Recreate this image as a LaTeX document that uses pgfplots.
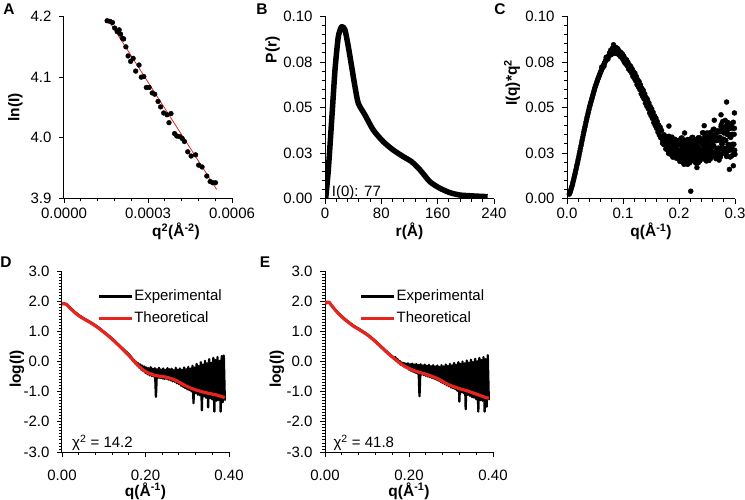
\documentclass[border=0pt]{standalone}
\usepackage{fontspec}
\setmainfont{Liberation Sans}
\usepackage{pgfplots}
\pgfplotsset{compat=1.18}

\definecolor{fitred}{RGB}{232,36,30}
\newcommand{\tk}{\fontsize{15}{18}\selectfont}
\newcommand{\lb}{\fontsize{15.5}{18}\selectfont\bfseries}

% common look of the five panels (Excel-like)
\pgfplotsset{
  panel/.style={
    scale only axis, axis x line*=bottom, axis y line*=left,
    axis line style={line width=1pt, black},
    tick style={black, line width=0.9pt},
    tick align=outside, major tick length=5pt, minor tick length=3pt,
    tick label style={font=\tk},
    label style={font=\lb},
    yticklabel style={xshift=-4pt},
    xticklabel style={yshift=-1pt},
    scaled ticks=false,
  },
  expl/.style={black, line width=2.3pt, line join=round},
  theo/.style={fitred, line width=3.2pt, line join=round},
  legend image code/.code={\draw[#1, line width=3pt] (0pt,0pt) -- (33pt,0pt);},
  fitlegend/.style={legend cell align=left,
    legend style={at={(axis description cs:#1,0.905)}, anchor=north west, draw=none,
      fill=none, inner sep=0pt, row sep=6pt, font=\tk,
      nodes={inner sep=1pt, text height=11pt, text depth=3pt}}},
}

\begin{document}
\begin{tikzpicture}
\path[use as bounding box] (0pt,0pt) rectangle (745pt,499pt);

% ---------------- A: Guinier
\begin{axis}[panel, at={(64pt,300.5pt)}, anchor=south west, width=168pt, height=182pt,
  xmin=0, xmax=0.0006, ymin=3.9, ymax=4.2,
  xtick={0,0.0003,0.0006}, xticklabels={0.0000,0.0003,0.0006}, minor x tick num=4,
  ytick={3.9,4.0,4.1,4.2}, yticklabels={3.9,4.0,4.1,4.2},
  xlabel={q\textsuperscript{2}(Å\textsuperscript{-2})}, ylabel={ln(I)},
  xlabel style={at={(axis description cs:0.667,-0.181)}, anchor=center},
  ylabel style={at={(axis description cs:-0.29,0.5)}, anchor=center}]
\addplot[only marks, mark=*, mark size=2.4pt, black] coordinates {
 (0.000154,4.193) (0.000164,4.192) (0.000173,4.190) (0.000181,4.181) (0.000190,4.175)
 (0.000197,4.178) (0.000202,4.171) (0.000209,4.164) (0.000213,4.163) (0.000221,4.150)
 (0.000229,4.135) (0.000238,4.126) (0.000247,4.131) (0.000256,4.110) (0.000268,4.120)
 (0.000276,4.100) (0.000285,4.101) (0.000294,4.083) (0.000304,4.083) (0.000315,4.074)
 (0.000324,4.072) (0.000336,4.060) (0.000345,4.051) (0.000356,4.041) (0.000368,4.038)
 (0.000375,4.025) (0.000382,4.040) (0.000395,4.007) (0.000403,4.003) (0.000413,4.002)
 (0.000422,3.999) (0.000430,3.994) (0.000442,3.977) (0.000454,3.970) (0.000470,3.972)
 (0.000481,3.955) (0.000493,3.952) (0.000510,3.937) (0.000522,3.928) (0.000531,3.926)
 (0.000541,3.926)};
\addplot[fitred, line width=0.8pt] coordinates {(0.000160,4.193) (0.000545,3.915)};
\end{axis}

% ---------------- B: P(r)
\begin{axis}[panel, at={(325pt,300.5pt)}, anchor=south west, width=169pt, height=182pt,
  xmin=0, xmax=240, ymin=0, ymax=0.1,
  xtick={0,80,160,240}, xticklabels={0,80,160,240}, minor x tick num=4,
  ytick={0,0.025,0.05,0.075,0.1}, yticklabels={0.00,0.03,0.05,0.08,0.10}, minor y tick num=4,
  xlabel={r(Å)}, ylabel={P(r)},
  xlabel style={at={(axis description cs:0.5,-0.181)}, anchor=center},
  ylabel style={at={(axis description cs:-0.31,0.816)}, anchor=center}]
\addplot[black, line width=5.5pt, line join=round, smooth, tension=0.4] coordinates {
 (1.0,0.0001) (4.7,0.0157) (9.5,0.0431) (14.2,0.0706) (18.9,0.0889) (23.7,0.0944)
 (28.4,0.0926) (33.1,0.0834) (37.9,0.0724) (42.6,0.0614) (47.3,0.0523) (56.8,0.0459)
 (68.6,0.0376) (82.8,0.0312) (97.0,0.0266) (111.2,0.0230) (123.1,0.0202) (135.0,0.0157)
 (149.0,0.0092) (163.3,0.0056) (177.5,0.0032) (191.7,0.0019) (210.6,0.0014) (231.0,0.0010)};
\node[font=\tk, anchor=base west, inner sep=0pt] at (axis description cs:0.04,0.01) {I(0): 77};
\end{axis}

% ---------------- C: Kratky
\begin{axis}[panel, at={(567pt,300.5pt)}, anchor=south west, width=168pt, height=182pt,
  xmin=0, xmax=0.3, ymin=0, ymax=0.1,
  xtick={0,0.1,0.2,0.3}, xticklabels={0.0,0.1,0.2,0.3}, minor x tick num=4,
  ytick={0,0.025,0.05,0.075,0.1}, yticklabels={0.00,0.03,0.05,0.08,0.10}, minor y tick num=4,
  xlabel={q(Å\textsuperscript{-1})}, ylabel={I(q)*q\textsuperscript{2}},
  xlabel style={at={(axis description cs:0.5,-0.181)}, anchor=center},
  ylabel style={at={(axis description cs:-0.327,0.635)}, anchor=center}]
\addplot[only marks, mark=*, mark size=2.5pt, black] coordinates {
 (0.004,0.0024) (0.005,0.0030) (0.006,0.0039) (0.007,0.0049) (0.008,0.0059) (0.009,0.0069)
 (0.010,0.0080) (0.011,0.0093) (0.012,0.0106) (0.013,0.0119) (0.014,0.0132) (0.015,0.0145)
 (0.016,0.0159) (0.017,0.0173) (0.018,0.0187) (0.019,0.0201) (0.020,0.0215) (0.021,0.0230)
 (0.022,0.0245) (0.023,0.0260) (0.024,0.0275) (0.025,0.0290) (0.026,0.0305) (0.027,0.0320)
 (0.028,0.0335) (0.029,0.0350) (0.030,0.0365) (0.031,0.0379) (0.032,0.0393) (0.033,0.0407)
 (0.034,0.0421) (0.035,0.0435) (0.036,0.0448) (0.037,0.0461) (0.038,0.0474) (0.039,0.0487)
 (0.040,0.0500) (0.041,0.0511) (0.042,0.0522) (0.043,0.0533) (0.044,0.0544) (0.045,0.0555)
 (0.046,0.0566) (0.047,0.0577) (0.048,0.0588) (0.049,0.0599) (0.050,0.0610) (0.051,0.0619)
 (0.052,0.0628) (0.053,0.0637) (0.054,0.0646) (0.055,0.0655) (0.056,0.0663) (0.057,0.0671)
 (0.058,0.0679) (0.059,0.0687) (0.060,0.0695) (0.061,0.0702) (0.062,0.0709) (0.063,0.0716)
 (0.064,0.0723) (0.065,0.0730) (0.066,0.0737) (0.067,0.0744) (0.068,0.0751) (0.069,0.0758)
 (0.070,0.0765) (0.071,0.0769) (0.072,0.0773) (0.073,0.0777) (0.074,0.0781) (0.075,0.0785)
 (0.076,0.0789) (0.077,0.0792) (0.078,0.0796) (0.079,0.0800) (0.080,0.0803) (0.081,0.0805)
 (0.082,0.0807) (0.083,0.0809) (0.084,0.0811) (0.085,0.0812)
 (0.062,0.0722) (0.066,0.0727) (0.070,0.0776) (0.073,0.0766) (0.076,0.0800) (0.079,0.0790)
 (0.082,0.0820) (0.085,0.0800) (0.087,0.0830)
 (0.078,0.0815) (0.081,0.0825) (0.083,0.0845) (0.086,0.0828) (0.088,0.0800)
 (0.084,0.0798) (0.090,0.0825) (0.092,0.0798)
 (0.08625,0.0822) (0.0875,0.0799) (0.08875,0.0824) (0.0900,0.0802) (0.09125,0.0819)
 (0.0925,0.0790) (0.09375,0.0808) (0.0950,0.0781) (0.09625,0.0802) (0.0975,0.0775)
 (0.09875,0.0795) (0.1000,0.0763) (0.10125,0.0783) (0.1025,0.0748) (0.10375,0.0768)
 (0.1050,0.0739) (0.10625,0.0762) (0.1075,0.0729) (0.10875,0.0749) (0.1100,0.0712)
 (0.11125,0.0734) (0.1125,0.0702) (0.11375,0.0726) (0.1150,0.0691) (0.11625,0.0712)
 (0.1175,0.0672) (0.11875,0.0696) (0.1200,0.0660) (0.12125,0.0688) (0.1225,0.0647)
 (0.12375,0.0671) (0.1250,0.0626) (0.12625,0.0653) (0.1275,0.0613) (0.12875,0.0642)
 (0.1300,0.0599) (0.13125,0.0624) (0.1325,0.0576) (0.13375,0.0605) (0.1350,0.0561)
 (0.13625,0.0594) (0.1375,0.0547) (0.13875,0.0575) (0.1400,0.0524) (0.14125,0.0555)
 (0.1425,0.0508) (0.14375,0.0544) (0.1450,0.0494) (0.14625,0.0525) (0.1475,0.0471)
 (0.14875,0.0505) (0.1500,0.0455) (0.15125,0.0493) (0.1525,0.0440) (0.15375,0.0474)
 (0.1550,0.0417) (0.15625,0.0454) (0.1575,0.0401) (0.15875,0.0442) (0.1600,0.0385)
 (0.16125,0.0423) (0.1625,0.0364) (0.16375,0.0403) (0.1650,0.0348) (0.16625,0.0392)
 (0.1675,0.0333) (0.16875,0.0374)
 (0.170,0.0342) (0.171,0.0319) (0.172,0.0343) (0.173,0.0296) (0.174,0.0321)
 (0.175,0.0297) (0.176,0.0338) (0.177,0.0303) (0.178,0.0271) (0.179,0.0316)
 (0.180,0.0302) (0.181,0.0259) (0.182,0.0342) (0.183,0.0269) (0.184,0.0286)
 (0.185,0.0243) (0.186,0.0320) (0.187,0.0271) (0.188,0.0300) (0.189,0.0227)
 (0.190,0.0310) (0.191,0.0285) (0.192,0.0254) (0.193,0.0325) (0.194,0.0240)
 (0.195,0.0287) (0.196,0.0268) (0.197,0.0315) (0.198,0.0224) (0.199,0.0295)
 (0.200,0.0236) (0.201,0.0308) (0.202,0.0220) (0.203,0.0260) (0.204,0.0332)
 (0.205,0.0204) (0.206,0.0284) (0.207,0.0244) (0.208,0.0300) (0.209,0.0188)
 (0.210,0.0268) (0.211,0.0308) (0.212,0.0228) (0.213,0.0276) (0.214,0.0212)
 (0.215,0.0324) (0.216,0.0252) (0.217,0.0236) (0.218,0.0316) (0.219,0.0196)
 (0.220,0.0294) (0.221,0.0262) (0.222,0.0223) (0.223,0.0335) (0.224,0.0248)
 (0.225,0.0288) (0.226,0.0209) (0.227,0.0313) (0.228,0.0234) (0.229,0.0274)
 (0.230,0.0195) (0.231,0.0307) (0.232,0.0284) (0.233,0.0220) (0.234,0.0333)
 (0.235,0.0245) (0.236,0.0270) (0.237,0.0206) (0.238,0.0326) (0.239,0.0262)
 (0.240,0.0316) (0.241,0.0235) (0.242,0.0361) (0.243,0.0262) (0.244,0.0219)
 (0.245,0.0310) (0.246,0.0338) (0.247,0.0249) (0.248,0.0295) (0.249,0.0206)
 (0.250,0.0360) (0.251,0.0262) (0.252,0.0308) (0.253,0.0236) (0.254,0.0335)
 (0.255,0.0290) (0.256,0.0218) (0.257,0.0353) (0.258,0.0274) (0.259,0.0330)
 (0.260,0.0251) (0.261,0.0379) (0.262,0.0291) (0.263,0.0237) (0.264,0.0327)
 (0.265,0.0354) (0.266,0.0219) (0.267,0.0318) (0.268,0.0264) (0.269,0.0372)
 (0.270,0.0277) (0.271,0.0321) (0.272,0.0246) (0.273,0.0369) (0.274,0.0228)
 (0.275,0.0395) (0.276,0.0320) (0.277,0.0300) (0.278,0.0423) (0.279,0.0271)
 (0.280,0.0361) (0.281,0.0253) (0.282,0.0374) (0.283,0.0319) (0.284,0.0396)
 (0.285,0.0231) (0.286,0.0352) (0.287,0.0418) (0.288,0.0286) (0.289,0.0264)
 (0.290,0.0385) (0.291,0.0339) (0.292,0.0293) (0.293,0.0401) (0.294,0.0234)
 (0.295,0.0353) (0.296,0.0265) (0.297,0.0419) (0.298,0.0298) (0.299,0.0386)
 (0.300,0.0243)
 (0.1705,0.0304) (0.1715,0.0341) (0.1725,0.0318) (0.1735,0.0350) (0.1745,0.0299)
 (0.1755,0.0320) (0.1765,0.0272) (0.1775,0.0325) (0.1785,0.0302) (0.1795,0.0280)
 (0.1805,0.0332) (0.1815,0.0247) (0.1825,0.0306) (0.1835,0.0275) (0.1845,0.0322)
 (0.1855,0.0255) (0.1865,0.0290) (0.1875,0.0337) (0.1885,0.0234) (0.1895,0.0305)
 (0.1905,0.0274) (0.1915,0.0243) (0.1925,0.0320) (0.1935,0.0259) (0.1945,0.0288)
 (0.1955,0.0221) (0.1965,0.0304) (0.1975,0.0291) (0.1985,0.0248) (0.1995,0.0319)
 (0.2005,0.0244) (0.2015,0.0204) (0.2025,0.0308) (0.2035,0.0268) (0.2045,0.0220)
 (0.2055,0.0332) (0.2065,0.0236) (0.2075,0.0260) (0.2085,0.0196) (0.2095,0.0292)
 (0.2105,0.0316) (0.2115,0.0252) (0.2125,0.0212) (0.2135,0.0276) (0.2145,0.0300)
 (0.2155,0.0188) (0.2165,0.0284) (0.2175,0.0228) (0.2185,0.0324) (0.2195,0.0244)
 (0.2205,0.0310) (0.2215,0.0206) (0.2225,0.0271) (0.2235,0.0223) (0.2245,0.0336)
 (0.2255,0.0264) (0.2265,0.0241) (0.2275,0.0297) (0.2285,0.0202) (0.2295,0.0322)
 (0.2305,0.0251) (0.2315,0.0219) (0.2325,0.0292) (0.2335,0.0308) (0.2345,0.0197)
 (0.2355,0.0277) (0.2365,0.0334) (0.2375,0.0238) (0.2385,0.0262) (0.2395,0.0318)
 (0.2405,0.0217) (0.2415,0.0298) (0.2425,0.0235) (0.2435,0.0361) (0.2445,0.0282)
 (0.2455,0.0256) (0.2465,0.0320) (0.2475,0.0213) (0.2485,0.0349) (0.2495,0.0233)
 (0.2505,0.0297) (0.2515,0.0316) (0.2525,0.0272) (0.2535,0.0209) (0.2545,0.0335)
 (0.2555,0.0362) (0.2565,0.0254) (0.2575,0.0290) (0.2585,0.0346) (0.2595,0.0231)
 (0.2605,0.0314) (0.2615,0.0289) (0.2625,0.0381) (0.2635,0.0255) (0.2645,0.0327)
 (0.2655,0.0228) (0.2665,0.0336) (0.2675,0.0273) (0.2685,0.0363) (0.2695,0.0246)
 (0.2705,0.0321) (0.2715,0.0211) (0.2725,0.0367) (0.2735,0.0336) (0.2745,0.0272)
 (0.2755,0.0406) (0.2765,0.0298) (0.2775,0.0388) (0.2785,0.0247) (0.2795,0.0326)
 (0.2805,0.0361) (0.2815,0.0275) (0.2825,0.0429) (0.2835,0.0319) (0.2845,0.0242)
 (0.2855,0.0374) (0.2865,0.0407) (0.2875,0.0297) (0.2885,0.0264) (0.2895,0.0352)
 (0.2905,0.0384) (0.2915,0.0228) (0.2925,0.0336) (0.2935,0.0411) (0.2945,0.0277)
 (0.2955,0.0298) (0.2965,0.0386) (0.2975,0.0243) (0.2985,0.0353) (0.2995,0.0265)
 (0.182,0.0398) (0.221,0.0040) (0.285,0.0530) (0.263,0.0430) (0.297,0.0180)
 (0.299,0.0470) (0.275,0.0460) (0.290,0.0160) (0.232,0.0170) (0.210,0.0360) (0.245,0.0400)};
\end{axis}

% ---------------- D: fit 1
\begin{axis}[panel, fitlegend=0.21, at={(62pt,47pt)}, anchor=south west, width=167pt, height=181pt,
  xmin=0, xmax=0.4, ymin=-3, ymax=3,
  xtick={0,0.2,0.4}, xticklabels={0.00,0.20,0.40}, minor x tick num=4,
  ytick={-3,-2,-1,0,1,2,3}, yticklabels={-3.0,-2.0,-1.0,0.0,1.0,2.0,3.0}, minor y tick num=9,
  xlabel={q(Å\textsuperscript{-1})}, ylabel={log(I)},
  xticklabel style={yshift=-8pt},
  xlabel style={at={(axis description cs:0.5,-0.215)}, anchor=center},
  ylabel style={at={(axis description cs:-0.27,0.459)}, anchor=center}]
\addplot[expl] coordinates {
 (0.000,1.92) (0.010,1.90) (0.020,1.78) (0.030,1.65) (0.040,1.54) (0.050,1.45)
 (0.060,1.37) (0.070,1.29) (0.080,1.20) (0.090,1.10) (0.100,0.99) (0.110,0.88)
 (0.120,0.76) (0.130,0.63) (0.140,0.50) (0.150,0.37) (0.160,0.24) (0.165,0.16)
 (0.1675,0.12) (0.170,0.02) (0.1725,0.05) (0.175,-0.06) (0.1775,-0.01) (0.180,-0.13)
 (0.1825,-0.06) (0.185,-0.20) (0.1875,-0.10) (0.190,-0.27) (0.1925,-0.14) (0.195,-0.32)
 (0.1975,-0.17) (0.200,-0.38) (0.2025,-0.20) (0.205,-0.42) (0.2075,-0.22) (0.210,-0.46)
 (0.2125,-0.19) (0.215,-0.48) (0.2175,-0.24) (0.220,-0.50) (0.2225,-0.22) (0.225,-1.17)
 (0.2275,-0.26) (0.230,-0.54) (0.2325,-0.21) (0.235,-0.55) (0.2375,-0.27) (0.240,-0.56)
 (0.2425,-0.23) (0.245,-0.58) (0.2475,-0.28) (0.250,-0.57) (0.2525,-0.22) (0.255,-0.60)
 (0.2575,-0.26) (0.260,-0.62) (0.2625,-0.24) (0.265,-0.66) (0.2675,-0.29) (0.270,-0.67)
 (0.2725,-0.21) (0.275,-0.72) (0.2775,-0.27) (0.280,-0.75) (0.2825,-0.23) (0.285,-0.80)
 (0.2875,-0.28) (0.290,-0.84) (0.2925,-0.20) (0.295,-0.88) (0.2975,-0.26) (0.300,-0.92)
 (0.3025,-0.18) (0.305,-0.95) (0.3075,-0.24) (0.310,-0.99) (0.3125,-0.14) (0.315,-1.38)
 (0.3175,-0.20) (0.320,-1.05) (0.3225,-0.08) (0.325,-1.10) (0.3275,-0.15) (0.330,-1.12)
 (0.3325,-0.02) (0.335,-1.62) (0.3375,-0.10) (0.340,-1.15) (0.3425,0.02) (0.345,-1.20)
 (0.3475,-0.06) (0.350,-1.52) (0.3525,0.08) (0.355,-1.22) (0.3575,-0.04) (0.360,-1.26)
 (0.3625,0.12) (0.365,-1.66) (0.3675,0.05) (0.370,-1.30) (0.3725,0.15) (0.375,-1.28)
 (0.3775,0.02) (0.380,-1.66) (0.3825,0.18) (0.385,-1.35) (0.3875,0.20) (0.390,-1.30)};
\addlegendentry{Experimental}
\addplot[theo, smooth, tension=0.5] coordinates {
 (0.000,1.90) (0.005,1.92) (0.010,1.90) (0.020,1.76) (0.030,1.63) (0.040,1.52)
 (0.050,1.43) (0.060,1.35) (0.070,1.27) (0.080,1.18) (0.090,1.08) (0.100,0.97)
 (0.110,0.86) (0.120,0.74) (0.130,0.61) (0.140,0.48) (0.150,0.34) (0.160,0.20)
 (0.170,0.05) (0.180,-0.10) (0.190,-0.23) (0.200,-0.33) (0.210,-0.40) (0.220,-0.45)
 (0.230,-0.48) (0.240,-0.50) (0.250,-0.52) (0.260,-0.56) (0.270,-0.61) (0.280,-0.68)
 (0.290,-0.76) (0.300,-0.83) (0.310,-0.89) (0.320,-0.94) (0.330,-0.98) (0.340,-1.02)
 (0.350,-1.05) (0.360,-1.08) (0.370,-1.11) (0.380,-1.15) (0.390,-1.20)};
\addlegendentry{Theoretical}
\node[font=\tk, anchor=base west, inner sep=0pt] at (axis description cs:0.06,0.025) {χ\textsuperscript{2} = 14.2};
\end{axis}

% ---------------- E: fit 2
\begin{axis}[panel, fitlegend=0.205, at={(325pt,47pt)}, anchor=south west, width=168pt, height=181pt,
  xmin=0, xmax=0.4, ymin=-3, ymax=3,
  xtick={0,0.2,0.4}, xticklabels={0.00,0.20,0.40}, minor x tick num=4,
  ytick={-3,-2,-1,0,1,2,3}, yticklabels={-3.0,-2.0,-1.0,0.0,1.0,2.0,3.0}, minor y tick num=9,
  xlabel={q(Å\textsuperscript{-1})}, ylabel={log(I)},
  xticklabel style={yshift=-8pt},
  xlabel style={at={(axis description cs:0.5,-0.215)}, anchor=center},
  ylabel style={at={(axis description cs:-0.286,0.459)}, anchor=center}]
\addplot[expl] coordinates {
 (0.000,1.93) (0.010,1.95) (0.020,1.79) (0.030,1.63) (0.040,1.50) (0.050,1.38)
 (0.060,1.27) (0.070,1.17) (0.080,1.09) (0.090,1.00) (0.100,0.91) (0.110,0.80)
 (0.120,0.68) (0.130,0.55) (0.140,0.42) (0.150,0.29) (0.160,0.17) (0.165,0.12)
 (0.1675,0.14) (0.170,0.02) (0.1725,0.08) (0.175,-0.04) (0.1775,0.02) (0.180,-0.10)
 (0.1825,-0.03) (0.185,-0.14) (0.1875,-0.05) (0.190,-0.19) (0.1925,-0.07) (0.195,-0.22)
 (0.1975,-0.06) (0.200,-0.27) (0.2025,-0.09) (0.205,-0.31) (0.2075,-0.07) (0.210,-0.34)
 (0.2125,-0.10) (0.215,-0.37) (0.2175,-0.08) (0.220,-0.40) (0.2225,-0.12) (0.225,-1.15)
 (0.2275,-0.09) (0.230,-0.43) (0.2325,-0.13) (0.235,-0.45) (0.2375,-0.10) (0.240,-0.47)
 (0.2425,-0.14) (0.245,-0.50) (0.2475,-0.11) (0.250,-0.52) (0.2525,-0.16) (0.255,-0.55)
 (0.2575,-0.12) (0.260,-0.57) (0.2625,-0.17) (0.265,-0.60) (0.2675,-0.13) (0.270,-0.63)
 (0.2725,-0.18) (0.275,-0.67) (0.2775,-0.12) (0.280,-0.71) (0.2825,-0.16) (0.285,-0.75)
 (0.2875,-0.10) (0.290,-0.79) (0.2925,-0.15) (0.295,-0.82) (0.2975,-0.08) (0.300,-0.86)
 (0.3025,-0.13) (0.305,-0.89) (0.3075,-0.05) (0.310,-0.92) (0.3125,-0.11) (0.315,-0.97)
 (0.3175,-0.02) (0.320,-1.33) (0.3225,-0.08) (0.325,-1.02) (0.3275,0.00) (0.330,-1.05)
 (0.3325,-0.06) (0.335,-1.58) (0.3375,0.03) (0.340,-1.10) (0.3425,-0.04) (0.345,-1.14)
 (0.3475,0.06) (0.350,-1.18) (0.3525,-0.02) (0.355,-1.20) (0.3575,0.09) (0.360,-1.25)
 (0.3625,0.01) (0.365,-1.66) (0.3675,0.12) (0.370,-1.28) (0.3725,0.05) (0.375,-1.30)
 (0.3775,0.15) (0.380,-1.66) (0.3825,0.08) (0.385,-1.50) (0.3875,0.21) (0.390,-1.28)};
\addlegendentry{Experimental}
\addplot[theo, smooth, tension=0.5] coordinates {
 (0.000,1.93) (0.005,1.97) (0.010,1.96) (0.015,1.87) (0.020,1.78) (0.030,1.62)
 (0.040,1.48) (0.050,1.36) (0.060,1.25) (0.070,1.15) (0.080,1.07) (0.090,0.98)
 (0.100,0.89) (0.110,0.78) (0.120,0.66) (0.130,0.53) (0.140,0.40) (0.150,0.27)
 (0.160,0.15) (0.170,0.04) (0.180,-0.07) (0.190,-0.16) (0.200,-0.23) (0.210,-0.29)
 (0.220,-0.34) (0.230,-0.38) (0.240,-0.42) (0.250,-0.47) (0.260,-0.52) (0.270,-0.58)
 (0.280,-0.66) (0.290,-0.74) (0.300,-0.80) (0.310,-0.85) (0.320,-0.90) (0.330,-0.94)
 (0.340,-0.98) (0.350,-1.03) (0.360,-1.08) (0.370,-1.13) (0.380,-1.18) (0.390,-1.22)};
\addlegendentry{Theoretical}
\node[font=\tk, anchor=base west, inner sep=0pt] at (axis description cs:0.05,0.025) {χ\textsuperscript{2} = 41.8};
\end{axis}

% panel letters
\node[font=\lb] at (9pt,490pt) {A};
\node[font=\lb] at (262pt,490pt) {B};
\node[font=\lb] at (500pt,490pt) {C};
\node[font=\lb] at (6pt,237pt) {D};
\node[font=\lb] at (265pt,237pt) {E};
\end{tikzpicture}
\end{document}
